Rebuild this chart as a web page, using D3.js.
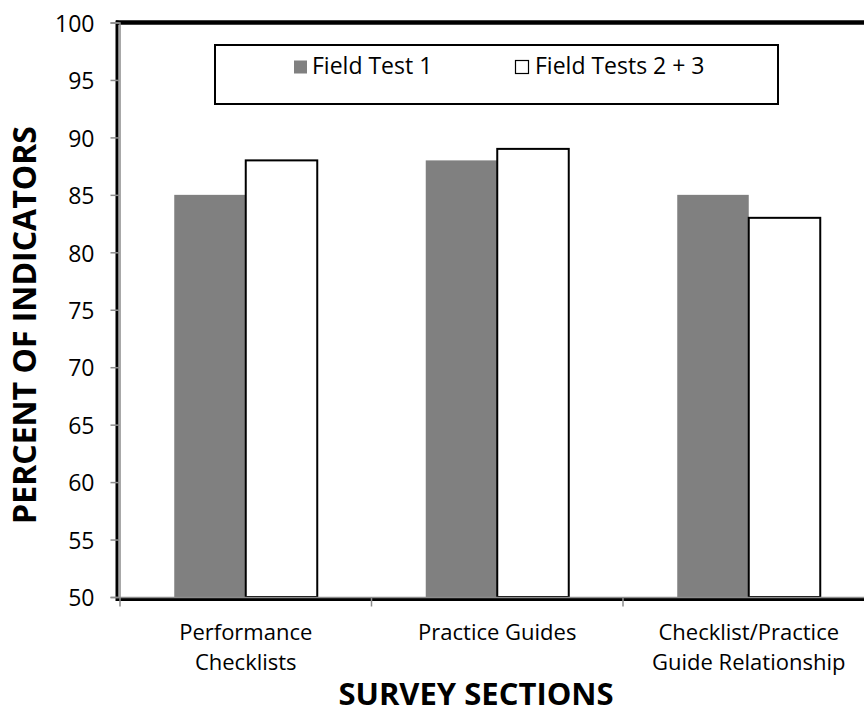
<!DOCTYPE html>
<html>
<head>
<meta charset="utf-8">
<script src="https://cdn.jsdelivr.net/npm/d3@7"></script>
<style>
html,body{margin:0;padding:0;background:#fff;}
svg{display:block;font-family:"Open Sans",Lato,sans-serif;}
</style>
</head>
<body>
<svg id="chart" width="864" height="713"></svg>
<script>
const categories = [["Performance","Checklists"],["Practice Guides"],["Checklist/Practice","Guide Relationship"]];
const seriesNames = ["Field Test 1","Field Tests 2 + 3"];
const fieldTest1 = [85, 88, 85];
const fieldTests23 = [88, 89, 83];
const yTicks = [50,55,60,65,70,75,80,85,90,95,100];

(function(){
const FONT = "Open Sans";
const FS = 23;
const svg = d3.select("#chart");
const pLeft = 120, pRight = 874.5, pTop = 22.5, pBottom = 597;

const x = d3.scaleBand().domain(d3.range(categories.length)).range([pLeft, pRight]).paddingInner(0).paddingOuter(0);
const y = d3.scaleLinear().domain([50, 100]).range([pBottom, pTop]);
const bw = x.bandwidth() * 0.2843;

const series = [
  {name: seriesNames[0], values: fieldTest1, fill: "#808080", stroke: "none"},
  {name: seriesNames[1], values: fieldTests23, fill: "#ffffff", stroke: "#000"}
];
series.forEach((s, si) => {
  svg.append("g").selectAll("rect").data(s.values).join("rect")
    .attr("x", (d, i) => x(i) + x.bandwidth()/2 - bw + si*bw)
    .attr("y", d => y(d))
    .attr("width", bw)
    .attr("height", d => pBottom - y(d))
    .attr("fill", s.fill)
    .attr("stroke", s.stroke)
    .attr("stroke-width", 2);
});

// black frame
svg.append("line").attr("x1", 116).attr("x2", 864).attr("y1", pTop).attr("y2", pTop).attr("stroke", "#000").attr("stroke-width", 4.5);
svg.append("line").attr("x1", 117).attr("x2", 117).attr("y1", pTop - 2).attr("y2", pBottom + 4).attr("stroke", "#000").attr("stroke-width", 3);
svg.append("line").attr("x1", 116).attr("x2", 864).attr("y1", pBottom + 2.5).attr("y2", pBottom + 2.5).attr("stroke", "#000").attr("stroke-width", 3);

// y axis
const yAxis = svg.append("g").attr("transform", `translate(${pLeft - 0.5},0)`)
  .call(d3.axisLeft(y).tickValues(yTicks).tickSize(9).tickPadding(16));
yAxis.select(".domain").attr("stroke", "#8c8c8c").attr("stroke-width", 1.5);
yAxis.selectAll(".tick line").attr("stroke", "#8c8c8c").attr("stroke-width", 1.5);
yAxis.selectAll(".tick text").attr("font-size", FS).attr("fill", "#000").attr("font-family", FONT).attr("dy", "0.38em");

// x axis
const xAxis = svg.append("g").attr("transform", `translate(0,${pBottom + 0.5})`);
xAxis.append("line").attr("x1", pLeft).attr("x2", 864).attr("stroke", "#8c8c8c").attr("stroke-width", 1.5);
xAxis.selectAll("line.tk").data(d3.range(categories.length + 1)).join("line")
  .attr("class", "tk")
  .attr("x1", i => pLeft + i * x.bandwidth()).attr("x2", i => pLeft + i * x.bandwidth())
  .attr("y1", 0).attr("y2", 9)
  .attr("stroke", "#8c8c8c").attr("stroke-width", 1.5);

// category labels (each line its own text)
categories.forEach((lines, i) => {
  const cx = x(i) + x.bandwidth()/2;
  lines.forEach((l, j) => {
    svg.append("text").attr("text-anchor", "middle").attr("font-size", 22).attr("fill", "#000")
      .attr("x", cx).attr("y", 640 + j * 30).text(l);
  });
});

// axis titles
svg.append("text").attr("text-anchor", "middle").attr("font-size", 31).attr("font-weight", "bold")
  .attr("x", 476).attr("y", 705).text("SURVEY SECTIONS");
svg.append("text").attr("text-anchor", "middle").attr("font-size", 32).attr("font-weight", "bold")
  .attr("transform", "translate(36,325) rotate(-90)").text("PERCENT OF INDICATORS");

// legend
svg.append("rect").attr("x", 215).attr("y", 45).attr("width", 563).attr("height", 59)
  .attr("fill", "#fff").attr("stroke", "#000").attr("stroke-width", 2);
const legX = [294, 515];
series.forEach((s, i) => {
  svg.append("rect").attr("x", legX[i] + (i ? 0.5 : 0)).attr("y", 60.5).attr("width", 13).attr("height", 13)
    .attr("fill", s.fill).attr("stroke", i ? "#000" : "none").attr("stroke-width", 1.2);
  svg.append("text").attr("x", legX[i] + (i ? 20 : 18)).attr("y", 74).attr("font-size", FS).attr("fill", "#000").text(s.name);
});
})();
</script>
</body>
</html>
